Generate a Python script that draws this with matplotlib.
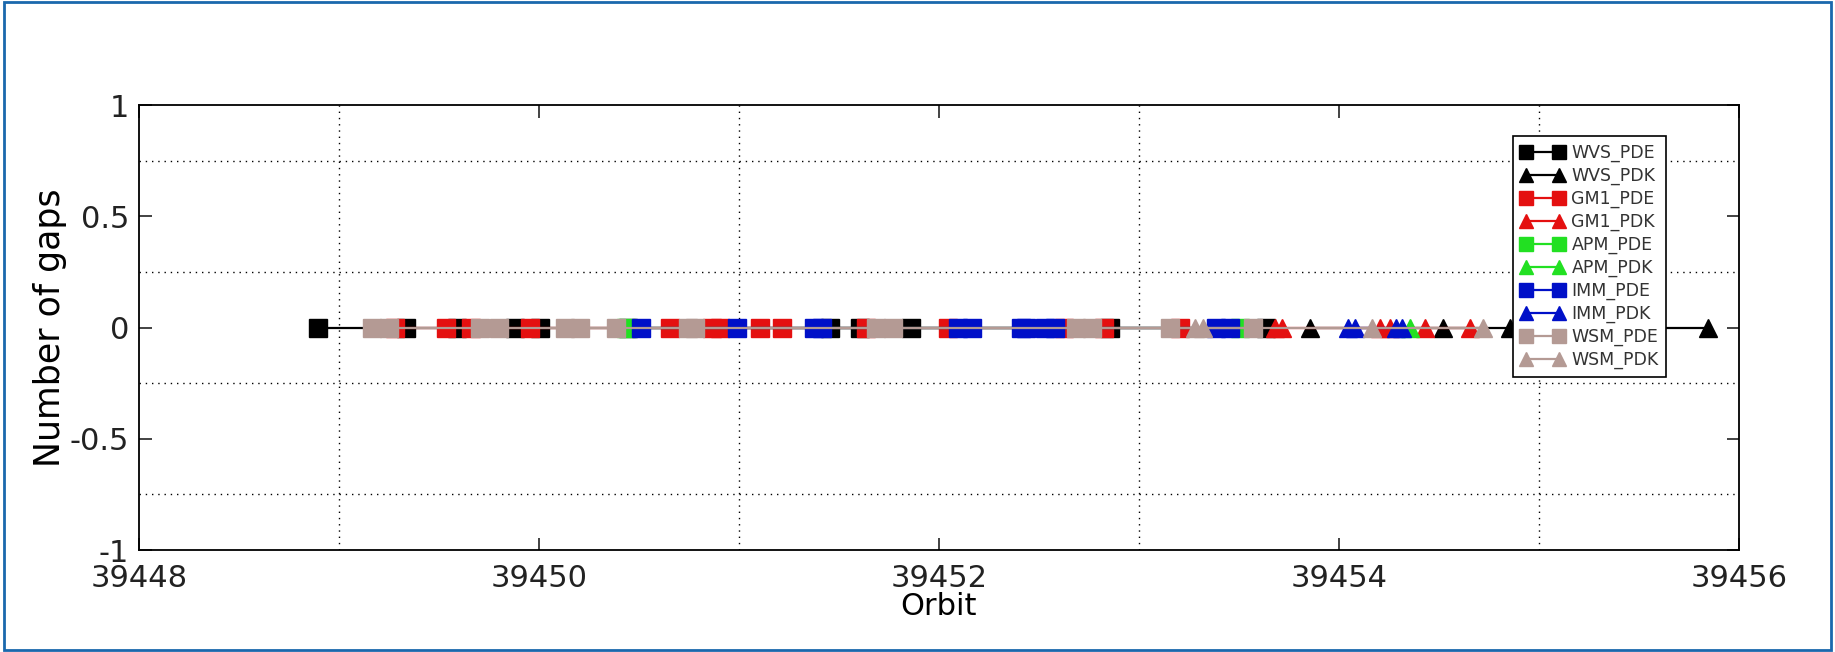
import matplotlib
matplotlib.use('Agg')
import matplotlib.pyplot as plt
from matplotlib.patches import Rectangle

# orbit positions of each gap series (all have 0 gaps)
wvs_pde = [39448.895, 39449.335, 39449.59, 39449.88, 39450.005, 39450.445,
           39451.455, 39451.605, 39451.86, 39452.855, 39453.635]
wvs_pdk = [39453.855, 39454.52, 39454.855, 39455.845]
gm1_pde = [39449.28, 39449.535, 39449.66, 39449.955, 39450.655, 39450.865,
           39450.905, 39451.105, 39451.215, 39451.635, 39452.045, 39452.625,
           39452.825, 39453.205]
gm1_pdk = [39453.68, 39453.715, 39454.205, 39454.255, 39454.43, 39454.655]
apm_pde = [39450.435, 39453.505]
apm_pdk = [39454.355]
imm_pde = [39450.51, 39450.99, 39451.375, 39451.415, 39452.095, 39452.165,
           39452.41, 39452.435, 39452.53, 39452.58, 39453.385, 39453.455]
imm_pdk = [39454.045, 39454.08, 39454.285, 39454.315]
wsm_pde = [39449.165, 39449.25, 39449.705, 39449.8, 39450.13, 39450.205,
           39450.385, 39450.745, 39450.78, 39451.685, 39451.77, 39452.685,
           39452.765, 39453.155, 39453.57]
wsm_pdk = [39453.28, 39453.32, 39454.165, 39454.72]

series_names = ['WVS_PDE', 'WVS_PDK', 'GM1_PDE', 'GM1_PDK', 'APM_PDE',
                'APM_PDK', 'IMM_PDE', 'IMM_PDK', 'WSM_PDE', 'WSM_PDK']
series_data = [wvs_pde, wvs_pdk, gm1_pde, gm1_pdk, apm_pde,
               apm_pdk, imm_pde, imm_pdk, wsm_pde, wsm_pdk]

x_ticks = [39448, 39450, 39452, 39454, 39456]
x_ticklabels = ['39448', '39450', '39452', '39454', '39456']
y_ticks = [-1, -0.5, 0, 0.5, 1]
y_ticklabels = ['-1', '-0.5', '0', '0.5', '1']

colors = {'WVS': 'black', 'GM1': '#e41010', 'APM': '#22e022',
          'IMM': '#0010c8', 'WSM': '#b49a94'}

fig = plt.figure(figsize=(18.35, 6.52), dpi=100)
fig.patches.append(Rectangle((0.002, 0.003), 0.996, 0.994, transform=fig.transFigure,
                             fill=False, edgecolor='#1a68ad', linewidth=2.0))
ax = fig.add_axes([0.0757, 0.1564, 0.8719, 0.6825])

for name, xs in zip(series_names, series_data):
    c = colors[name[:3]]
    m = 's' if name.endswith('PDE') else '^'
    ax.plot(xs, [0] * len(xs), color=c, marker=m, markersize=12.5,
            markeredgecolor=c, linewidth=1.6, label=name)

ax.set_xlim(39448, 39456)
ax.set_ylim(-1, 1)
ax.set_xticks(x_ticks)
ax.set_xticklabels(x_ticklabels)
ax.set_yticks(y_ticks)
ax.set_yticklabels(y_ticklabels)
ax.set_xticks([39449, 39451, 39453, 39455], minor=True)
ax.set_yticks([-0.75, -0.25, 0.25, 0.75], minor=True)
ax.grid(True, which='minor', color='black', linestyle=(0, (1, 3.5)), linewidth=1.0)
ax.grid(False, which='major')
ax.tick_params(which='major', direction='in', length=9, width=1.2, top=True, right=True,
               labelsize=22, colors='#222222')
ax.tick_params(axis='x', which='major', pad=10)
ax.tick_params(axis='y', which='major', pad=7)
ax.tick_params(which='minor', length=0)
for s in ax.spines.values():
    s.set_linewidth(1.3)

ax.set_xlabel('Orbit', fontsize=22, labelpad=-1)
ax.set_ylabel('Number of gaps', fontsize=25, labelpad=2)

leg = ax.legend(loc='upper left', bbox_to_anchor=(0.859, 0.93), borderaxespad=0,
                fontsize=12.5, numpoints=2, handlelength=2.5, markerscale=0.85,
                labelspacing=0.27, handletextpad=0.4, borderpad=0.45,
                fancybox=False, framealpha=1, edgecolor='black')
leg.get_frame().set_linewidth(1.2)
for t in leg.get_texts():
    t.set_color('#333333')

fig.savefig('out.png', dpi=100)
